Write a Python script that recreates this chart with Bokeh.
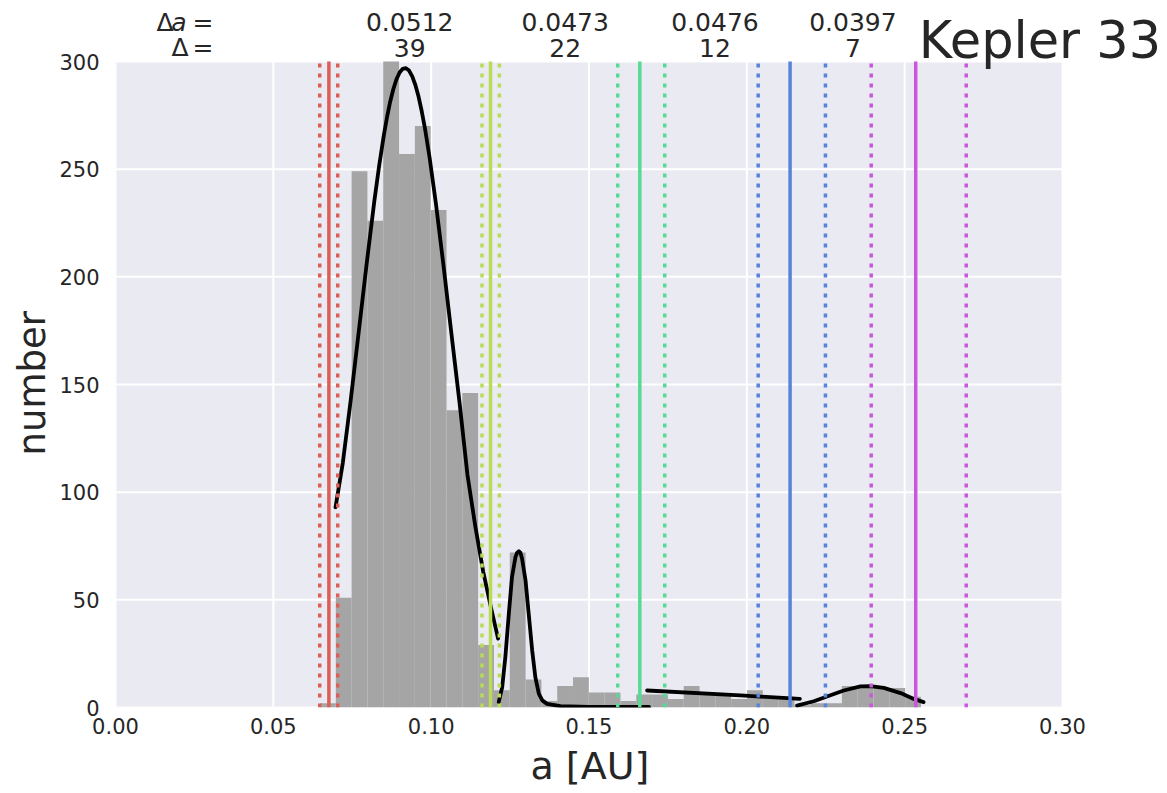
from bokeh.plotting import figure
from bokeh.models import BoxAnnotation, FixedTicker, PrintfTickFormatter, Range1d, ColumnDataSource, Title
from bokeh.core.properties import value
from bokeh.embed import file_html
from bokeh.resources import INLINE
import numpy as np

# ---------------- data ----------------
bin_start = 0.06478
bin_width = 0.00501
counts = [2, 51, 249, 226, 300, 257, 270, 231, 138, 146, 29, 8, 72, 13, 3, 10, 14, 7, 7,
          3, 6, 6, 4, 10, 7, 6, 4, 8, 5, 5, 1, 2, 2, 10, 10, 9, 9, 5]

fit1_a = [0.0697, 0.0720, 0.0745, 0.0770, 0.0795, 0.0820, 0.0835, 0.0850, 0.0860, 0.0870,
          0.0880, 0.0890, 0.0900, 0.0910, 0.0920, 0.0930, 0.0940, 0.0950, 0.0960, 0.0970,
          0.0980, 0.0995, 0.1015, 0.1040, 0.1065, 0.1090, 0.1115, 0.1140, 0.1165, 0.1190, 0.1212]
fit1_n = [93, 113.5, 142.6, 173.8, 205.3, 235.2, 251.4, 265.7, 274.0, 281.2,
          287.1, 291.7, 294.9, 296.6, 296.9, 295.8, 293.1, 289.1, 283.7, 277.0,
          269.2, 255.4, 234.1, 204.1, 172.5, 141.4, 108, 84, 63, 46, 32]

fit2_a = [0.1214, 0.1225, 0.1235, 0.1246, 0.1256, 0.1267, 0.1272, 0.1278, 0.1283, 0.1288,
          0.1299, 0.1309, 0.1320, 0.1330, 0.1341, 0.1352, 0.1367, 0.1410, 0.1500, 0.1600, 0.1690]
fit2_n = [2.5, 9.4, 23.4, 43.5, 60.5, 69.8, 71.8, 72.6, 71.8, 69.1,
          59, 43.5, 26.5, 14.1, 6.4, 3.3, 1.7, 0.6, 0.3, 0.3, 0.3]

fit3_a = [0.1684, 0.1980, 0.2168]
fit3_n = [7.9, 5.6, 4.0]

fit4_a = [0.2159, 0.2212, 0.2254, 0.2307, 0.2360, 0.2391, 0.2434, 0.2487, 0.2529, 0.2560]
fit4_n = [0.9, 2.9, 5.1, 7.9, 9.8, 9.9, 9.1, 6.7, 4.0, 2.5]

planet_a = [0.0676, 0.1188, 0.1661, 0.2137, 0.2535]
planet_lo = [0.0647, 0.1161, 0.1591, 0.2036, 0.2394]
planet_hi = [0.0704, 0.1216, 0.1740, 0.2249, 0.2695]
planet_colors = ["#db5f57", "#b9db57", "#57db94", "#5784db", "#c957db"]

delta_a_labels = ["0.0512", "0.0473", "0.0476", "0.0397"]
delta_labels = ["39", "22", "12", "7"]

x_ticks = [0.00, 0.05, 0.10, 0.15, 0.20, 0.25, 0.30]
y_ticks = [0, 50, 100, 150, 200, 250, 300]

title_text = "Kepler 33"

# ---------------- layout constants ----------------
FONT = "DejaVu Sans"
TXT = "#262626"
BG = "#eaeaf2"
LEFT, BOTTOM = 115, 86
PLOT_W, PLOT_H = 947, 646           # the shaded axes area
FRAME_W, FRAME_H = 1167 - LEFT, 793 - BOTTOM   # frame also holds the annotation strip
X_MAX, Y_MAX = x_ticks[-1], y_ticks[-1]

p = figure(frame_width=FRAME_W, frame_height=FRAME_H,
           min_border_left=LEFT, min_border_right=0, min_border_top=0, min_border_bottom=BOTTOM,
           x_range=Range1d(0, X_MAX * FRAME_W / PLOT_W),
           y_range=Range1d(0, Y_MAX * FRAME_H / PLOT_H),
           title_location=None, output_backend="svg", toolbar_location=None)

p.background_fill_color = "white"
p.border_fill_color = "white"
p.outline_line_color = None
p.xgrid.visible = False
p.ygrid.visible = False

# shaded axes background
p.add_layout(BoxAnnotation(left=0, right=X_MAX, bottom=0, top=Y_MAX, fill_color=BG,
                           fill_alpha=1, line_color=None, level="underlay"))

# grid
p.segment(x0=x_ticks, y0=0, x1=x_ticks, y1=Y_MAX, line_color="white", line_width=2)
p.segment(x0=0, y0=y_ticks, x1=X_MAX, y1=y_ticks, line_color="white", line_width=2)

for ax in (p.xaxis, p.yaxis):
    ax.axis_line_color = None
    ax.major_tick_line_color = None
    ax.minor_tick_line_color = None
    ax.major_tick_out = 0
    ax.major_tick_in = 0
    ax.major_label_text_font = FONT
    ax.major_label_text_font_size = "21px"
    ax.major_label_text_color = TXT

p.xaxis.ticker = FixedTicker(ticks=x_ticks)
p.xaxis.formatter = PrintfTickFormatter(format="%.2f")
p.yaxis.ticker = FixedTicker(ticks=y_ticks)
p.xaxis.major_label_standoff = 10
p.yaxis.major_label_standoff = 16

# axis titles, placed relative to the shaded axes area
p.add_layout(Title(text="a [AU]", align="left", offset=415,
                   text_font=FONT, text_font_size="38px", text_font_style="normal",
                   text_color=TXT, standoff=10), "below")
p.add_layout(Title(text="number", align="left", offset=252,
                   text_font=FONT, text_font_size="37px", text_font_style="normal",
                   text_color=TXT, standoff=6), "left")

# histogram
edges = bin_start + bin_width * np.arange(len(counts) + 1)
p.quad(left=edges[:-1], right=edges[1:], bottom=0, top=counts,
       fill_color="#a5a5a5", line_color=None)

# fits
for xa, yn in ((fit1_a, fit1_n), (fit2_a, fit2_n), (fit3_a, fit3_n), (fit4_a, fit4_n)):
    p.line(xa, yn, line_color="black", line_width=3.8, line_cap="round", line_join="round")

# planet lines
p.segment(x0=planet_a, y0=0, x1=planet_a, y1=Y_MAX, line_color=planet_colors, line_width=3.5)
p.segment(x0=planet_lo + planet_hi, y0=0, x1=planet_lo + planet_hi, y1=Y_MAX,
          line_color=planet_colors + planet_colors, line_width=3.5, line_dash="4 6")

# ---------------- annotations above the axes ----------------
px = PLOT_H / Y_MAX        # pixels per count
row1_y = Y_MAX + (FRAME_H - PLOT_H - 21.5) / px
row2_y = Y_MAX + (FRAME_H - PLOT_H - 47.0) / px
title_y = Y_MAX + (FRAME_H - PLOT_H - 39.5) / px

mid_x = [0.5 * (planet_a[i] + planet_a[i + 1]) for i in range(len(delta_a_labels))]
nums = ColumnDataSource(dict(x=mid_x + mid_x,
                             y=[row1_y] * len(mid_x) + [row2_y] * len(mid_x),
                             t=delta_a_labels + delta_labels))
p.text(x="x", y="y", text="t", source=nums, text_align="center", text_baseline="middle",
       text_font=value(FONT), text_font_size="25px", text_color=TXT)

lab = ColumnDataSource(dict(x=[0.01837, 0.03104, 0.02312, 0.03104],
                            y=[row1_y, row1_y, row2_y, row2_y],
                            t=["Δ", "=", "Δ", "="]))
p.text(x="x", y="y", text="t", source=lab, text_align="right", text_baseline="middle",
       text_font=value(FONT), text_font_size="25px", text_color=TXT)
p.text(x=[0.02249], y=[row1_y], text=["a"], text_align="right", text_baseline="middle",
       text_font=value(FONT), text_font_size="25px", text_font_style="italic", text_color=TXT)

p.text(x=[0.2545], y=[title_y], text=[title_text], text_align="left", text_baseline="middle",
       text_font=value(FONT), text_font_size="51px", text_color=TXT)

open("out.html", "w").write(file_html(p, INLINE))
